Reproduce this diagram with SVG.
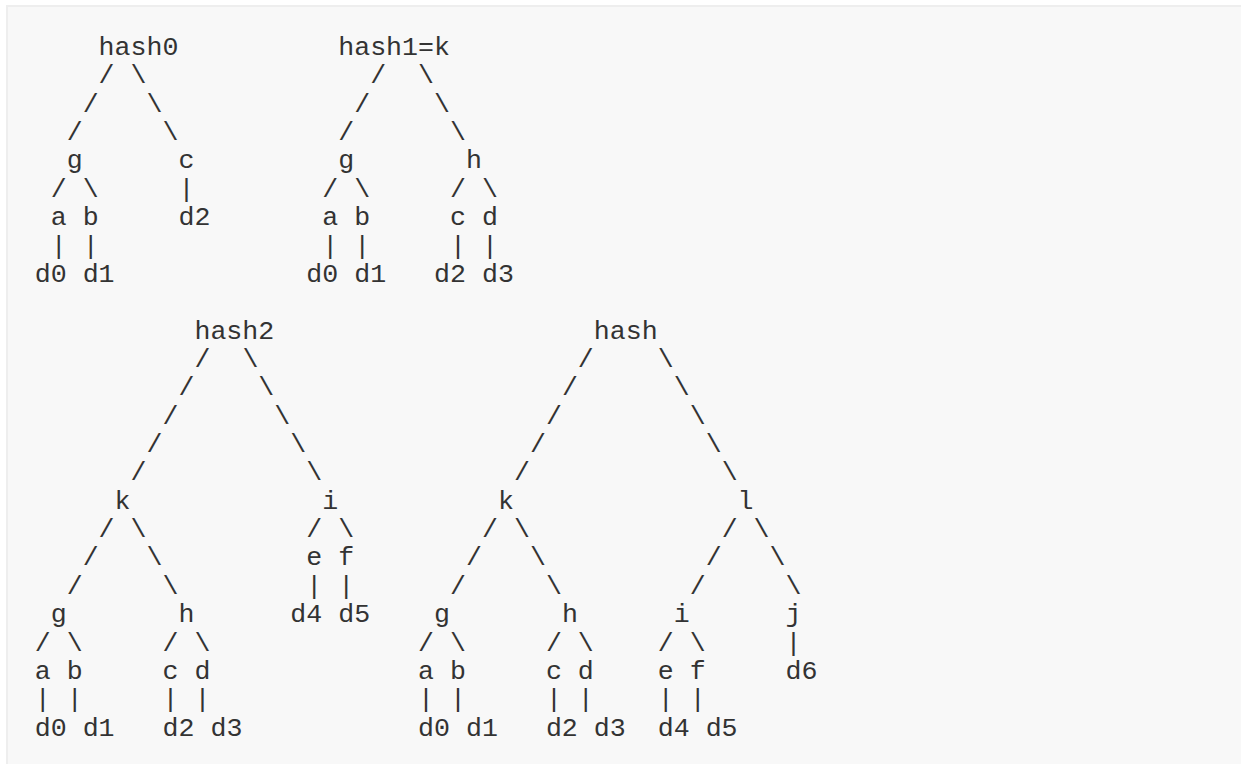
<svg xmlns="http://www.w3.org/2000/svg" width="1241" height="764" viewBox="0 0 1241 764">
<style>
.t{font-family:"Liberation Mono","DejaVu Sans Mono",monospace;font-size:26.6px;fill:#333333;}
.c{font-family:"Liberation Mono","DejaVu Sans Mono",monospace;font-size:26.6px;fill:#333333;}
</style>
<rect x="0" y="0" width="1241" height="764" fill="#ffffff"/>
<rect x="6" y="5" width="1235" height="759" fill="#f8f8f8"/>
<path d="M6 6H1241M7 5V764" stroke="#eeeeee" stroke-width="2" fill="none"/>

<!-- Tree 1: hash0 -->
<g id="t1-hash0"><text class="t" x="98.6" y="55">hash0</text></g>
<g id="t1-g"><text class="t" x="66.65" y="168.44">g</text></g>
<g id="t1-c"><text class="t" x="178.48" y="168.44">c</text></g>
<g id="t1-a"><text class="t" x="50.68" y="225.16">a</text></g>
<g id="t1-b"><text class="t" x="82.63" y="225.16">b</text></g>
<g id="t1-d2"><text class="t" x="178.48" y="225.16">d2</text></g>
<g id="t1-d0"><text class="t" x="34.7" y="281.88">d0</text></g>
<g id="t1-d1"><text class="t" x="82.63" y="281.88">d1</text></g>

<!-- Tree 2: hash1=k -->
<g id="t2-hash1"><text class="t" x="338.23" y="55">hash1=k</text></g>
<g id="t2-g"><text class="t" x="338.23" y="168.44">g</text></g>
<g id="t2-h"><text class="t" x="466.03" y="168.44">h</text></g>
<g id="t2-a"><text class="t" x="322.25" y="225.16">a</text></g>
<g id="t2-b"><text class="t" x="354.2" y="225.16">b</text></g>
<g id="t2-c"><text class="t" x="450.05" y="225.16">c</text></g>
<g id="t2-d"><text class="t" x="482" y="225.16">d</text></g>
<g id="t2-d0"><text class="t" x="306.28" y="281.88">d0</text></g>
<g id="t2-d1"><text class="t" x="354.2" y="281.88">d1</text></g>
<g id="t2-d2"><text class="t" x="434.08" y="281.88">d2</text></g>
<g id="t2-d3"><text class="t" x="482" y="281.88">d3</text></g>

<!-- Tree 3: hash2 -->
<g id="t3-hash2"><text class="t" x="194.45" y="338.6">hash2</text></g>
<g id="t3-k"><text class="t" x="114.58" y="508.76">k</text></g>
<g id="t3-i"><text class="t" x="322.25" y="508.76">i</text></g>
<g id="t3-e"><text class="t" x="306.28" y="565.48">e</text></g>
<g id="t3-f"><text class="t" x="338.23" y="565.48">f</text></g>
<g id="t3-g"><text class="t" x="50.68" y="622.2">g</text></g>
<g id="t3-h"><text class="t" x="178.48" y="622.2">h</text></g>
<g id="t3-d4"><text class="t" x="290.3" y="622.2">d4</text></g>
<g id="t3-d5"><text class="t" x="338.23" y="622.2">d5</text></g>
<g id="t3-a"><text class="t" x="34.7" y="678.92">a</text></g>
<g id="t3-b"><text class="t" x="66.65" y="678.92">b</text></g>
<g id="t3-c"><text class="t" x="162.5" y="678.92">c</text></g>
<g id="t3-d"><text class="t" x="194.45" y="678.92">d</text></g>
<g id="t3-d0"><text class="t" x="34.7" y="735.64">d0</text></g>
<g id="t3-d1"><text class="t" x="82.63" y="735.64">d1</text></g>
<g id="t3-d2"><text class="t" x="162.5" y="735.64">d2</text></g>
<g id="t3-d3"><text class="t" x="210.43" y="735.64">d3</text></g>

<!-- Tree 4: hash -->
<g id="t4-hash"><text class="t" x="593.83" y="338.6">hash</text></g>
<g id="t4-k"><text class="t" x="497.98" y="508.76">k</text></g>
<g id="t4-l"><text class="t" x="737.6" y="508.76">l</text></g>
<g id="t4-g"><text class="t" x="434.08" y="622.2">g</text></g>
<g id="t4-h"><text class="t" x="561.88" y="622.2">h</text></g>
<g id="t4-i"><text class="t" x="673.7" y="622.2">i</text></g>
<g id="t4-j"><text class="t" x="785.53" y="622.2">j</text></g>
<g id="t4-a"><text class="t" x="418.1" y="678.92">a</text></g>
<g id="t4-b"><text class="t" x="450.05" y="678.92">b</text></g>
<g id="t4-c"><text class="t" x="545.9" y="678.92">c</text></g>
<g id="t4-d"><text class="t" x="577.85" y="678.92">d</text></g>
<g id="t4-e"><text class="t" x="657.73" y="678.92">e</text></g>
<g id="t4-f"><text class="t" x="689.68" y="678.92">f</text></g>
<g id="t4-d6"><text class="t" x="785.53" y="678.92">d6</text></g>
<g id="t4-d0"><text class="t" x="418.1" y="735.64">d0</text></g>
<g id="t4-d1"><text class="t" x="466.03" y="735.64">d1</text></g>
<g id="t4-d2"><text class="t" x="545.9" y="735.64">d2</text></g>
<g id="t4-d3"><text class="t" x="593.83" y="735.64">d3</text></g>
<g id="t4-d4"><text class="t" x="657.73" y="735.64">d4</text></g>
<g id="t4-d5"><text class="t" x="705.65" y="735.64">d5</text></g>

<!-- Connectors (ASCII characters) -->
<g id="connectors">
<!-- tree 1 -->
<text class="c" x="98.6" y="83.36">/</text><text class="c" x="130.55" y="83.36">\</text>
<text class="c" x="82.63" y="111.72">/</text><text class="c" x="146.53" y="111.72">\</text>
<text class="c" x="66.65" y="140.08">/</text><text class="c" x="162.5" y="140.08">\</text>
<text class="c" x="50.68" y="196.8">/</text><text class="c" x="82.63" y="196.8">\</text><text class="c" x="178.48" y="196.8">|</text>
<text class="c" x="50.68" y="253.52">|</text><text class="c" x="82.63" y="253.52">|</text>
<!-- tree 2 -->
<text class="c" x="370.18" y="83.36">/</text><text class="c" x="418.1" y="83.36">\</text>
<text class="c" x="354.2" y="111.72">/</text><text class="c" x="434.08" y="111.72">\</text>
<text class="c" x="338.23" y="140.08">/</text><text class="c" x="450.05" y="140.08">\</text>
<text class="c" x="322.25" y="196.8">/</text><text class="c" x="354.2" y="196.8">\</text><text class="c" x="450.05" y="196.8">/</text><text class="c" x="482" y="196.8">\</text>
<text class="c" x="322.25" y="253.52">|</text><text class="c" x="354.2" y="253.52">|</text><text class="c" x="450.05" y="253.52">|</text><text class="c" x="482" y="253.52">|</text>
<!-- tree 3 -->
<text class="c" x="194.45" y="366.96">/</text><text class="c" x="242.38" y="366.96">\</text>
<text class="c" x="178.48" y="395.32">/</text><text class="c" x="258.35" y="395.32">\</text>
<text class="c" x="162.5" y="423.68">/</text><text class="c" x="274.33" y="423.68">\</text>
<text class="c" x="146.53" y="452.04">/</text><text class="c" x="290.3" y="452.04">\</text>
<text class="c" x="130.55" y="480.4">/</text><text class="c" x="306.28" y="480.4">\</text>
<text class="c" x="98.6" y="537.12">/</text><text class="c" x="130.55" y="537.12">\</text><text class="c" x="306.28" y="537.12">/</text><text class="c" x="338.23" y="537.12">\</text>
<text class="c" x="82.63" y="565.48">/</text><text class="c" x="146.53" y="565.48">\</text>
<text class="c" x="66.65" y="593.84">/</text><text class="c" x="162.5" y="593.84">\</text><text class="c" x="306.28" y="593.84">|</text><text class="c" x="338.23" y="593.84">|</text>
<text class="c" x="34.7" y="650.56">/</text><text class="c" x="66.65" y="650.56">\</text><text class="c" x="162.5" y="650.56">/</text><text class="c" x="194.45" y="650.56">\</text>
<text class="c" x="34.7" y="707.28">|</text><text class="c" x="66.65" y="707.28">|</text><text class="c" x="162.5" y="707.28">|</text><text class="c" x="194.45" y="707.28">|</text>
<!-- tree 4 -->
<text class="c" x="577.85" y="366.96">/</text><text class="c" x="657.73" y="366.96">\</text>
<text class="c" x="561.88" y="395.32">/</text><text class="c" x="673.7" y="395.32">\</text>
<text class="c" x="545.9" y="423.68">/</text><text class="c" x="689.68" y="423.68">\</text>
<text class="c" x="529.93" y="452.04">/</text><text class="c" x="705.65" y="452.04">\</text>
<text class="c" x="513.95" y="480.4">/</text><text class="c" x="721.63" y="480.4">\</text>
<text class="c" x="482" y="537.12">/</text><text class="c" x="513.95" y="537.12">\</text><text class="c" x="721.63" y="537.12">/</text><text class="c" x="753.58" y="537.12">\</text>
<text class="c" x="466.03" y="565.48">/</text><text class="c" x="529.93" y="565.48">\</text><text class="c" x="705.65" y="565.48">/</text><text class="c" x="769.55" y="565.48">\</text>
<text class="c" x="450.05" y="593.84">/</text><text class="c" x="545.9" y="593.84">\</text><text class="c" x="689.68" y="593.84">/</text><text class="c" x="785.53" y="593.84">\</text>
<text class="c" x="418.1" y="650.56">/</text><text class="c" x="450.05" y="650.56">\</text><text class="c" x="545.9" y="650.56">/</text><text class="c" x="577.85" y="650.56">\</text><text class="c" x="657.73" y="650.56">/</text><text class="c" x="689.68" y="650.56">\</text><text class="c" x="785.53" y="650.56">|</text>
<text class="c" x="418.1" y="707.28">|</text><text class="c" x="450.05" y="707.28">|</text><text class="c" x="545.9" y="707.28">|</text><text class="c" x="577.85" y="707.28">|</text><text class="c" x="657.73" y="707.28">|</text><text class="c" x="689.68" y="707.28">|</text>
</g>
</svg>
